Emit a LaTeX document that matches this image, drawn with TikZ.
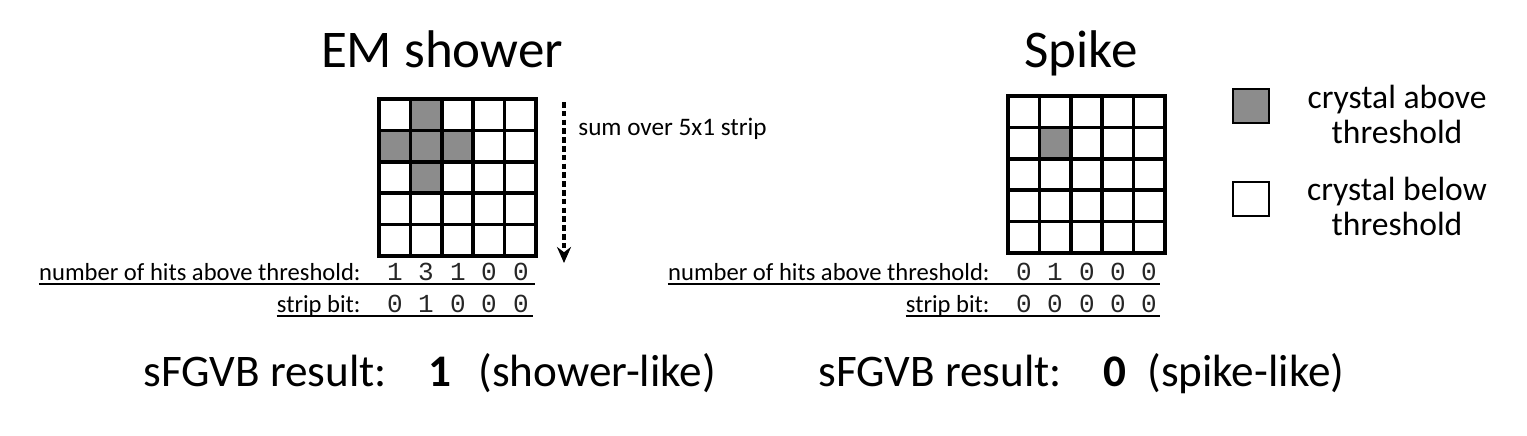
\documentclass[tikz,border=0pt]{standalone}
\usepackage{fontspec}
\setmainfont{Carlito}
\newfontfamily\digitfont{Liberation Mono}
\usetikzlibrary{arrows.meta}
\definecolor{hitgray}{RGB}{140,140,140}
\tikzset{
  cell/.style={draw, line width=1.8pt},
  hit/.style={cell, fill=hitgray},
  digit/.style={font=\digitfont\fontsize{13}{15}\selectfont, text=black!85, anchor=base, inner sep=0pt},
  rowlabel/.style={font=\fontsize{12.3}{14}\selectfont, anchor=base east, inner sep=0pt},
  underline/.style={line width=0.7pt},
  legendtext/.style={font=\fontsize{16.8}{17.5}\selectfont, align=center},
  bigtext/.style={font=\fontsize{22.6}{26}\selectfont, anchor=base west, inner sep=0pt},
}
\begin{document}
\begin{tikzpicture}[x=0.5pt, y=-0.5pt]
\useasboundingbox (0,0) rectangle (1527,435);

% Titles
\node[font=\fontsize{26.5}{30}\selectfont, anchor=base] (titleEM) at (442,67) {EM shower};
\node[font=\fontsize{26.5}{30}\selectfont, anchor=base] (titleSpike) at (1081,67) {Spike};

% EM shower grid (5x5 crystals)
\draw[cell] (379,99) rectangle +(31.4,31.4);
\draw[hit] (410.4,99) rectangle +(31.4,31.4);
\draw[cell] (441.8,99) rectangle +(31.4,31.4);
\draw[cell] (473.2,99) rectangle +(31.4,31.4);
\draw[cell] (504.6,99) rectangle +(31.4,31.4);
\draw[hit] (379,130.4) rectangle +(31.4,31.4);
\draw[hit] (410.4,130.4) rectangle +(31.4,31.4);
\draw[hit] (441.8,130.4) rectangle +(31.4,31.4);
\draw[cell] (473.2,130.4) rectangle +(31.4,31.4);
\draw[cell] (504.6,130.4) rectangle +(31.4,31.4);
\draw[cell] (379,161.8) rectangle +(31.4,31.4);
\draw[hit] (410.4,161.8) rectangle +(31.4,31.4);
\draw[cell] (441.8,161.8) rectangle +(31.4,31.4);
\draw[cell] (473.2,161.8) rectangle +(31.4,31.4);
\draw[cell] (504.6,161.8) rectangle +(31.4,31.4);
\draw[cell] (379,193.2) rectangle +(31.4,31.4);
\draw[cell] (410.4,193.2) rectangle +(31.4,31.4);
\draw[cell] (441.8,193.2) rectangle +(31.4,31.4);
\draw[cell] (473.2,193.2) rectangle +(31.4,31.4);
\draw[cell] (504.6,193.2) rectangle +(31.4,31.4);
\draw[cell] (379,224.6) rectangle +(31.4,31.4);
\draw[cell] (410.4,224.6) rectangle +(31.4,31.4);
\draw[cell] (441.8,224.6) rectangle +(31.4,31.4);
\draw[cell] (473.2,224.6) rectangle +(31.4,31.4);
\draw[cell] (504.6,224.6) rectangle +(31.4,31.4);

% Spike grid (5x5 crystals)
\draw[cell] (1008,96) rectangle +(31.4,31.4);
\draw[cell] (1039.4,96) rectangle +(31.4,31.4);
\draw[cell] (1070.8,96) rectangle +(31.4,31.4);
\draw[cell] (1102.2,96) rectangle +(31.4,31.4);
\draw[cell] (1133.6,96) rectangle +(31.4,31.4);
\draw[cell] (1008,127.4) rectangle +(31.4,31.4);
\draw[hit] (1039.4,127.4) rectangle +(31.4,31.4);
\draw[cell] (1070.8,127.4) rectangle +(31.4,31.4);
\draw[cell] (1102.2,127.4) rectangle +(31.4,31.4);
\draw[cell] (1133.6,127.4) rectangle +(31.4,31.4);
\draw[cell] (1008,158.8) rectangle +(31.4,31.4);
\draw[cell] (1039.4,158.8) rectangle +(31.4,31.4);
\draw[cell] (1070.8,158.8) rectangle +(31.4,31.4);
\draw[cell] (1102.2,158.8) rectangle +(31.4,31.4);
\draw[cell] (1133.6,158.8) rectangle +(31.4,31.4);
\draw[cell] (1008,190.2) rectangle +(31.4,31.4);
\draw[cell] (1039.4,190.2) rectangle +(31.4,31.4);
\draw[cell] (1070.8,190.2) rectangle +(31.4,31.4);
\draw[cell] (1102.2,190.2) rectangle +(31.4,31.4);
\draw[cell] (1133.6,190.2) rectangle +(31.4,31.4);
\draw[cell] (1008,221.6) rectangle +(31.4,31.4);
\draw[cell] (1039.4,221.6) rectangle +(31.4,31.4);
\draw[cell] (1070.8,221.6) rectangle +(31.4,31.4);
\draw[cell] (1102.2,221.6) rectangle +(31.4,31.4);
\draw[cell] (1133.6,221.6) rectangle +(31.4,31.4);

% Sum over the strip
\coordinate (sumtop) at (564,102);
\coordinate (sumend) at (564,263);
\draw[line width=1.6pt, dash pattern=on 2.8pt off 1.6pt, -{Stealth[length=8pt,width=7pt]}] (sumtop) -- (sumend);
\node[font=\fontsize{12.6}{14}\selectfont, anchor=base west, inner sep=0pt] (sumlabel) at (578,135) {sum over 5x1 strip};

% EM shower rows
\node[rowlabel] (hitsEM) at (361,280) {number of hits above threshold:};
\draw[underline] ([yshift=-2pt]hitsEM.base west) -- (535,284);
\node[digit] (hitsEMa) at (395,280) {1};
\node[digit] (hitsEMb) at (426,280) {3};
\node[digit] (hitsEMc) at (458,280) {1};
\node[digit] (hitsEMd) at (489,280) {0};
\node[digit] (hitsEMe) at (521,280) {0};
\node[rowlabel] (bitEM) at (361,312) {strip bit:};
\draw[underline] ([yshift=-2pt]bitEM.base west) -- (533,316);
\node[digit] (bitEMa) at (395,312) {0};
\node[digit] (bitEMb) at (426,312) {1};
\node[digit] (bitEMc) at (458,312) {0};
\node[digit] (bitEMd) at (489,312) {0};
\node[digit] (bitEMe) at (521,312) {0};

% Spike rows
\node[rowlabel] (hitsSpike) at (990,280) {number of hits above threshold:};
\draw[underline] ([yshift=-2pt]hitsSpike.base west) -- (1160,284);
\node[digit] (hitsSpikea) at (1024,280) {0};
\node[digit] (hitsSpikeb) at (1055,280) {1};
\node[digit] (hitsSpikec) at (1087,280) {0};
\node[digit] (hitsSpiked) at (1118,280) {0};
\node[digit] (hitsSpikee) at (1149,280) {0};
\node[rowlabel] (bitSpike) at (990,312) {strip bit:};
\draw[underline] ([yshift=-2pt]bitSpike.base west) -- (1160,316);
\node[digit] (bitSpikea) at (1024,312) {0};
\node[digit] (bitSpikeb) at (1055,312) {0};
\node[digit] (bitSpikec) at (1087,312) {0};
\node[digit] (bitSpiked) at (1118,312) {0};
\node[digit] (bitSpikee) at (1149,312) {0};

% Legend
\draw[line width=1pt, fill=hitgray] (1233,89) rectangle (1269,123);
\node[legendtext] (legendAbove) at (1397,114) {crystal above\\threshold};
\draw[line width=1pt] (1233,182) rectangle (1269,216);
\node[legendtext] (legendBelow) at (1397,206) {crystal below\\threshold};

% Results
\node[bigtext] (resultEM) at (143,386) {sFGVB result:};
\node[bigtext, anchor=base] (valueEM) at (440,386) {\textbf{1}};
\node[bigtext] (likeEM) at (478,386) {(shower-like)};
\node[bigtext] (resultSpike) at (818,386) {sFGVB result:};
\node[bigtext, anchor=base] (valueSpike) at (1115,386) {\textbf{0}};
\node[bigtext] (likeSpike) at (1147,386) {(spike-like)};
\end{tikzpicture}
\end{document}
